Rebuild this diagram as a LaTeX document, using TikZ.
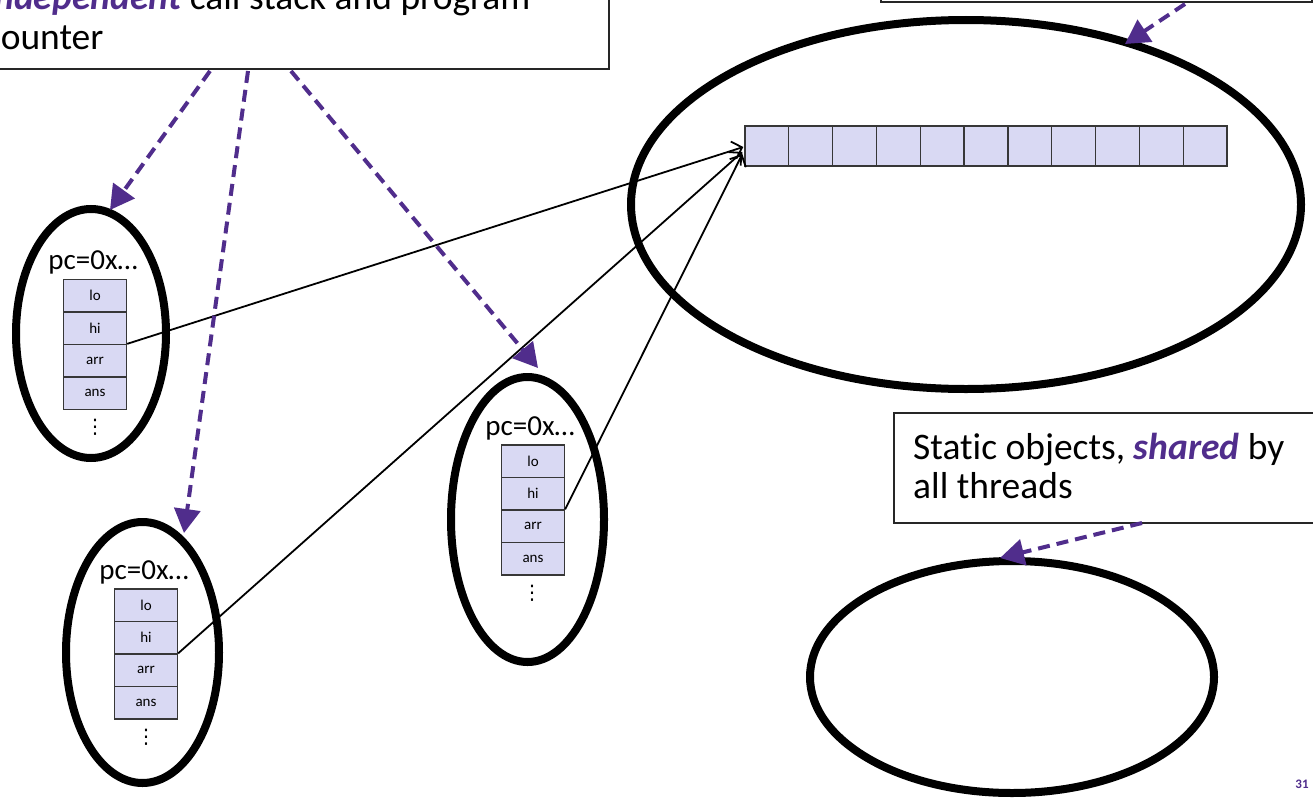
\documentclass[tikz,border=0pt]{standalone}
\usepackage{fontspec}
\setmainfont{Carlito}[Ligatures=NoCommon]
\newfontfamily\dejavu{DejaVu Sans}
\usetikzlibrary{arrows.meta,calc,shapes.geometric}
\definecolor{uwpurple}{RGB}{80,45,140}
\definecolor{cellfill}{RGB}{217,217,243}
\definecolor{celldraw}{RGB}{55,55,55}
\begin{document}
\begin{tikzpicture}[x=1pt,y=-1pt,
  blob/.style={ellipse,draw=black,line width=8pt,inner sep=0pt},
  cell/.style={draw=celldraw,line width=1.3pt,fill=cellfill,minimum width=63pt,minimum height=32.5pt,inner sep=0pt,font=\fontsize{15}{17}\selectfont},
  acell/.style={draw=celldraw,line width=1.3pt,fill=cellfill,minimum width=43.82pt,minimum height=40pt,inner sep=0pt},
  pclabel/.style={font=\fontsize{29}{32}\selectfont,inner sep=0pt,anchor=base},
  vdotsnode/.style={font=\dejavu\fontsize{20}{22}\selectfont,inner sep=0pt},
  pointer/.style={line width=1.8pt,-{Straight Barb[length=9pt,width=18pt,line width=1.8pt]}},
  callout/.style={draw=uwpurple,line width=4pt,dash pattern=on 12pt off 7pt,-{Triangle[length=24pt,width=26pt]}},
  textbox/.style={draw=black!85,line width=2pt,fill=white,inner sep=0pt},
  big/.style={font=\fontsize{37.5}{41}\selectfont,inner sep=0pt,anchor=base west},
]
\path[use as bounding box] (0,0) rectangle (1313,800);
\clip (0,0) rectangle (1313,800);
\fill[white] (0,0) rectangle (1313,800);

% text boxes
\node[textbox,anchor=south east,minimum width=660pt,minimum height=160pt] (tlbox) at (610,70) {};
\node[big] (tl1) at (-15,10) {\textcolor{uwpurple}{\textbf{\textit{independent}}} call stack and program};
\node[big] (tl2) at (-15,50) {counter};

\node[textbox,anchor=south west,minimum width=431pt,minimum height=100pt] (trbox) at (880,3) {};

\node[textbox,anchor=north west,minimum width=440pt,minimum height=110pt] (stbox) at (893,412) {};
\node[big] (st1) at (913,459) {Static objects, \textcolor{uwpurple}{\textbf{\textit{shared}}} by};
\node[big] (st2) at (913,498) {all threads};

% ellipses
\node[blob,minimum width=150pt,minimum height=249pt] (Lell) at (91,333.5) {};
\node[blob,minimum width=153pt,minimum height=261pt] (Bell) at (142.5,652.5) {};
\node[blob,minimum width=153pt,minimum height=285pt] (Mell) at (527.5,519.5) {};
\node[blob,minimum width=670pt,minimum height=369pt] (Hell) at (966,204.5) {};
\node[blob,minimum width=404pt,minimum height=232pt] (Sell) at (1012,677) {};

% array
\foreach \i in {1,...,11} {
  \node[acell] (a\i) at (745+43.82*\i-21.91,146) {};
}

% stacks
\foreach \s/\cx/\ty/\px in {L/95/279.5/93, M/533/445/530, B/146/589/144} {
  \node[cell] (\s lo) at (\cx,\ty+16.25) {lo};
  \node[cell] (\s hi) at (\cx,\ty+48.75) {hi};
  \node[cell] (\s arr) at (\cx,\ty+81.25) {arr};
  \node[cell] (\s ans) at (\cx,\ty+113.75) {ans};
  \node[pclabel] (\s pc) at (\px,\ty-10) {pc=0x…};
  \node[vdotsnode] (\s dots) at (\px+2,\ty+148) {⋮};
}

% pointers to the array
\coordinate (pL) at ($(a1.west)+(-1,1)$);
\coordinate (pB) at ($(a1.west)+(-2,6)$);
\coordinate (pM) at ($(a1.west)+(-2,8)$);
\draw[pointer] (Larr.north east) -- (pL);
\draw[pointer] (Barr.north east) -- (pB);
\draw[pointer] (Marr.north east) -- (pM);

% callout arrows
\coordinate (c1) at (210,71);
\coordinate (c2) at (248,71);
\coordinate (c3) at (291,71);
\coordinate (t1) at (110,210);
\coordinate (t2) at (184,533);
\coordinate (t3) at (538,368);
\coordinate (c4) at (1185,4);
\coordinate (t4) at (1125,44);
\coordinate (c5) at (1142,523);
\coordinate (t5) at (1000,558);
\draw[callout] (c1) -- (t1);
\draw[callout] (c2) -- (t2);
\draw[callout] (c3) -- (t3);
\draw[callout] (c4) -- (t4);
\draw[callout] (c5) -- (t5);

\node[font=\bfseries\fontsize{13}{15}\selectfont,text=uwpurple,inner sep=0pt] (pg) at (1302,784) {31};
\end{tikzpicture}
\end{document}
